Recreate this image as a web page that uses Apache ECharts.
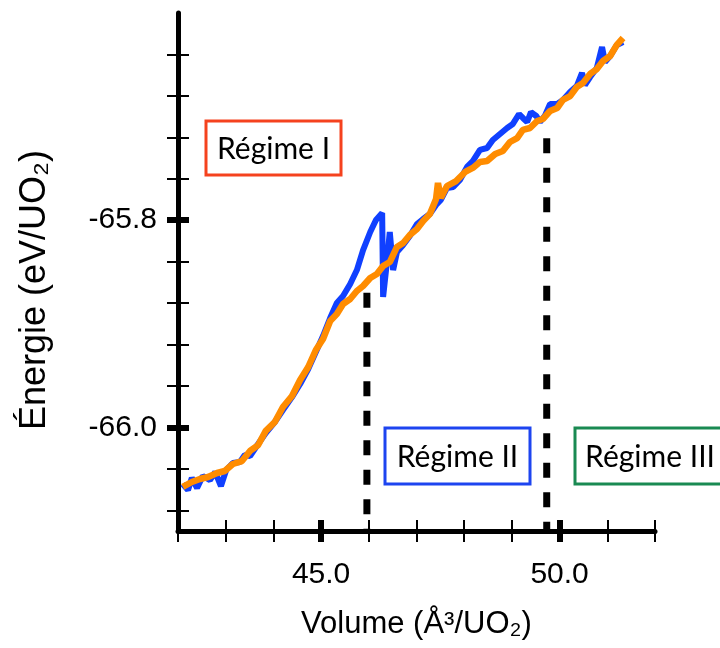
<!DOCTYPE html>
<html>
<head>
<meta charset="utf-8">
<script src="https://cdn.jsdelivr.net/npm/echarts@6/dist/echarts.min.js"></script>
<style>html,body{margin:0;padding:0;background:#fff;}#c{width:720px;height:648px;}</style>
</head>
<body>
<div id="c"></div>
<script>
// ---- data (Volume Å³/UO2, Energie eV/UO2) ----
const orangeVol = [42.10,42.29,42.46,42.63,42.82,42.98,43.15,43.34,43.51,43.68,43.84,44.03,44.20,44.39,44.56,44.73,44.89,45.04,45.19,45.33,45.46,45.61,45.75,45.88,46.03,46.17,46.30,46.44,46.59,46.72,46.86,47.01,47.14,47.28,47.41,47.45,47.51,47.64,47.83,48.02,48.18,48.33,48.48,48.65,48.81,48.96,49.11,49.23,49.38,49.53,49.65,49.80,49.95,50.07,50.22,50.36,50.49,50.64,50.78,50.91,51.06,51.20,51.33];
const orangeE = [-66.0575,-66.0527,-66.0498,-66.0479,-66.0440,-66.0421,-66.0353,-66.0325,-66.0227,-66.0170,-66.0034,-65.9948,-65.9803,-65.9697,-65.9542,-65.9417,-65.9253,-65.9147,-65.8973,-65.8906,-65.8809,-65.8761,-65.8683,-65.8635,-65.8558,-65.8520,-65.8442,-65.8404,-65.8258,-65.8220,-65.8143,-65.8085,-65.8007,-65.7941,-65.7795,-65.7641,-65.7785,-65.7670,-65.7622,-65.7534,-65.7496,-65.7438,-65.7429,-65.7361,-65.7332,-65.7245,-65.7207,-65.7129,-65.7110,-65.7042,-65.7023,-65.6946,-65.6917,-65.6839,-65.6802,-65.6714,-65.6676,-65.6588,-65.6541,-65.6463,-65.6415,-65.6308,-65.6241];
const blueVol = [42.10,42.21,42.29,42.40,42.52,42.67,42.78,42.90,43.01,43.15,43.30,43.40,43.51,43.68,43.84,44.03,44.20,44.39,44.56,44.73,44.89,45.04,45.19,45.33,45.46,45.61,45.75,45.88,46.03,46.15,46.28,46.30,46.38,46.44,46.51,46.59,46.72,46.86,47.01,47.14,47.28,47.41,47.51,47.64,47.77,47.91,48.06,48.18,48.33,48.48,48.60,48.75,48.90,49.02,49.15,49.23,49.32,49.40,49.51,49.59,49.69,49.80,49.95,50.07,50.22,50.36,50.47,50.53,50.64,50.78,50.89,50.95,51.06,51.20,51.33];
const blueE = [-66.0546,-66.0604,-66.0488,-66.0585,-66.0469,-66.0508,-66.0431,-66.0566,-66.0411,-66.0344,-66.0334,-66.0266,-66.0276,-66.0160,-66.0054,-65.9948,-65.9832,-65.9707,-65.9581,-65.9436,-65.9272,-65.9118,-65.8944,-65.8799,-65.8732,-65.8616,-65.8481,-65.8288,-65.8114,-65.7998,-65.7931,-65.8741,-65.8403,-65.8114,-65.8481,-65.8307,-65.8239,-65.8153,-65.8037,-65.7988,-65.7940,-65.7853,-65.7805,-65.7689,-65.7680,-65.7612,-65.7486,-65.7429,-65.7322,-65.7303,-65.7226,-65.7168,-65.7110,-65.7071,-65.6975,-65.7013,-65.7052,-65.6956,-65.6994,-65.7052,-65.6994,-65.6878,-65.6878,-65.6840,-65.6763,-65.6705,-65.6579,-65.6695,-65.6618,-65.6531,-65.6328,-65.6473,-65.6415,-65.6309,-65.6280];
const boundaryVol = [45.96, 49.73];
const boundaryTopE = [-65.870, -65.721];
const xMajorTicks = [45, 50];
const xMinorTicks = [42, 43, 44, 46, 47, 48, 49, 51, 52];
const yMajorTicks = [-66.0, -65.8];
const yMinorTicks = [-66.08, -66.04, -65.96, -65.92, -65.88, -65.84, -65.76, -65.72, -65.68, -65.64];
const regimeLabels = ['Régime I', 'Régime II', 'Régime III'];
const xName = 'Volume (Å³/UO₂)';
const yName = 'Énergie (eV/UO₂)';

const X_MIN = 42, X_MAX = 52, Y_MIN = -66.1, Y_MAX = -65.6;
const zip = (a, b) => a.map((v, i) => [v, b[i]]);

function xAxisDef(ticks, inside, width, showLine, showLabel) {
  return {
    type: 'value', min: X_MIN, max: X_MAX, position: 'bottom',
    axisLine: { show: showLine, onZero: false, lineStyle: { color: '#000', width: 5 } },
    axisTick: { show: true, inside: inside, length: 11, customValues: ticks, lineStyle: { color: '#000', width: width } },
    axisLabel: showLabel ? { show: true, customValues: ticks, margin: 29, color: '#000', fontSize: 30, fontFamily: 'Liberation Sans', formatter: v => v.toFixed(1) } : { show: false },
    splitLine: { show: false }
  };
}
function yAxisDef(ticks, inside, width, showLine, showLabel) {
  return {
    type: 'value', min: Y_MIN, max: Y_MAX, position: 'left',
    axisLine: { show: showLine, onZero: false, lineStyle: { color: '#000', width: 5 } },
    axisTick: { show: true, inside: inside, length: 11, customValues: ticks, lineStyle: { color: '#000', width: width } },
    axisLabel: showLabel ? { show: true, customValues: ticks, margin: 21, color: '#000', fontSize: 30, fontFamily: 'Liberation Sans', formatter: v => v.toFixed(1) } : { show: false },
    splitLine: { show: false }
  };
}

const chart = echarts.init(document.getElementById('c'), null, { renderer: 'canvas' });
const series = [];
boundaryVol.forEach((x, i) => {
  series.push({
    type: 'line', data: [[x, boundaryTopE[i]], [x, Y_MIN]], symbol: 'none', silent: true, z: 1,
    lineStyle: { color: '#000', width: 7, type: [15, 14.5] }
  });
});
series.push({ type: 'line', name: 'blue', data: zip(blueVol, blueE), symbol: 'none', z: 2,
  lineStyle: { color: '#1040ff', width: 6 } });
series.push({ type: 'line', name: 'orange', data: zip(orangeVol, orangeE), symbol: 'none', z: 3,
  lineStyle: { color: '#ff8c00', width: 6.5 } });

function box(x, y, w, h, color, text) {
  return [
    { type: 'rect', shape: { x: x, y: y, width: w, height: h }, style: { fill: '#fff', stroke: color, lineWidth: 3 }, z: 10 },
    { type: 'text', x: x + w / 2, y: y + h / 2 + 1, z: 11, style: { text: text, fill: '#000', font: '30px Lato', align: 'center', verticalAlign: 'middle' } }
  ];
}

chart.setOption({
  animation: false,
  backgroundColor: '#fff',
  grid: { left: 178, right: 65, top: 13, bottom: 117, containLabel: false, outerBoundsMode: 'none' },
  xAxis: [
    Object.assign(xAxisDef(xMajorTicks, false, 6, true, true), {
      name: xName, nameLocation: 'middle', nameGap: 78,
      nameTextStyle: { color: '#000', fontSize: 31, fontFamily: 'Liberation Sans' }
    }),
    xAxisDef(xMajorTicks, true, 6, false, false),
    xAxisDef(xMinorTicks, false, 2, false, false),
    xAxisDef(xMinorTicks, true, 2, false, false)
  ],
  yAxis: [
    yAxisDef(yMajorTicks, false, 6, true, true),
    yAxisDef(yMajorTicks, true, 6, false, false),
    yAxisDef(yMinorTicks, false, 2, false, false),
    yAxisDef(yMinorTicks, true, 2, false, false)
  ],
  series: series,
  graphic: [
    ...box(206, 121, 135, 54, '#f5421e', regimeLabels[0]),
    ...box(385, 428, 145, 56, '#1d44f0', regimeLabels[1]),
    ...box(575, 428, 150, 56, '#1a8a52', regimeLabels[2]),
    { type: 'text', x: 35, y: 290, rotation: Math.PI / 2, z: 11,
      style: { text: yName, fill: '#000', font: '36px "Liberation Sans"', align: 'center', verticalAlign: 'middle' } }
  ]
});
</script>
</body>
</html>
